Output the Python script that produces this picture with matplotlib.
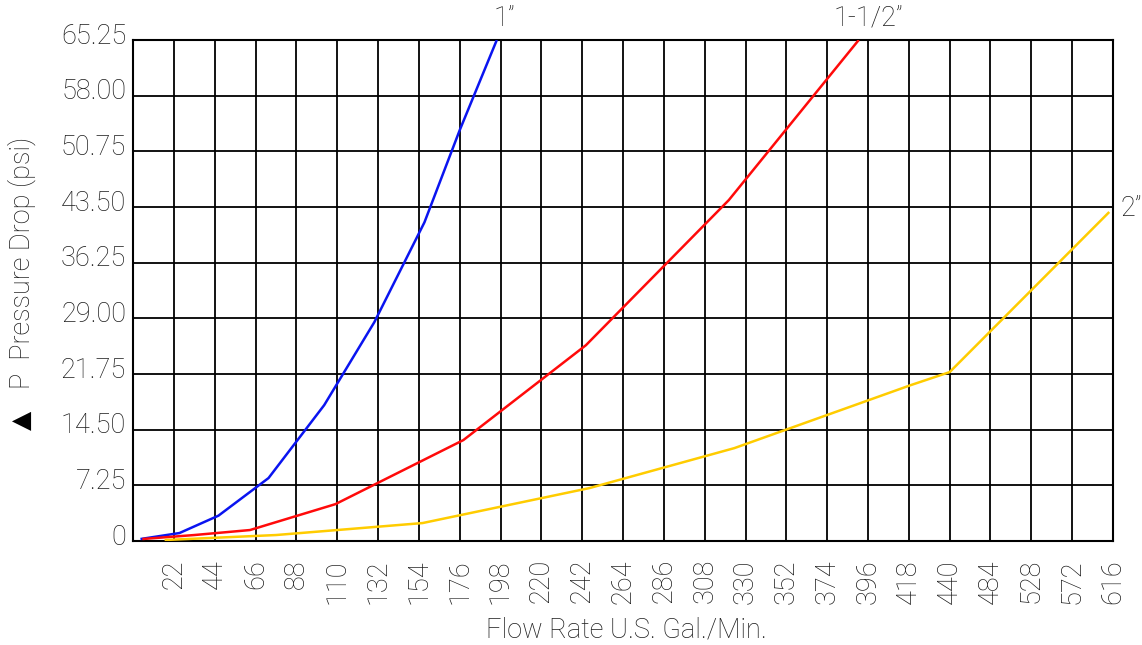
import numpy as np
import matplotlib.pyplot as plt
from matplotlib.transforms import ScaledTranslation

# x axis is evenly spaced per tick, but the flow steps change after 440
x_ticks = [22, 44, 66, 88, 110, 132, 154, 176, 198, 220, 242, 264, 286,
           308, 330, 352, 374, 396, 418, 440, 484, 528, 572, 616]
y_ticks = [0, 7.25, 14.50, 21.75, 29.00, 36.25, 43.50, 50.75, 58.00, 65.25]
y_tick_labels = ["0", "7.25", "14.50", "21.75", "29.00", "36.25", "43.50",
                 "50.75", "58.00", "65.25"]

# flow (gpm) / pressure drop (psi)
flow_1in = [4, 25, 46, 73, 103, 130, 157, 176, 196]
dp_1in = [0.26, 1.04, 3.3, 8.2, 17.7, 28.5, 41.5, 53.5, 65.25]

flow_15in = [5, 33, 63, 109, 178, 244, 321, 391]
dp_15in = [0.26, 0.78, 1.43, 4.8, 13.15, 25.5, 44.4, 65.25]

flow_2in = [17, 77, 156, 246, 324, 419, 440, 612]
dp_2in = [0.13, 0.78, 2.34, 6.9, 12.1, 20.3, 22.0, 42.85]

tick_pos = np.arange(0, len(x_ticks) + 1)
tick_flow = np.array([0] + x_ticks)


def to_pos(flow):
    return np.interp(flow, tick_flow, tick_pos)


FONT = ['Roboto', 'DejaVu Sans']
W = 'light'
TXT = '#1c1c1c'
FS = 19.5

fig = plt.figure(figsize=(11.42, 6.45), dpi=100)
ax = fig.add_axes([0.1165, 0.1612, 0.8581, 0.7768])

ax.plot(to_pos(flow_1in), dp_1in, color='#0a14f0', lw=1.8, solid_capstyle='butt', zorder=3)
ax.plot(to_pos(flow_15in), dp_15in, color='#ff0a0a', lw=1.8, solid_capstyle='butt', zorder=3)
ax.plot(to_pos(flow_2in), dp_2in, color='#ffcc00', lw=1.8, solid_capstyle='butt', zorder=3)

ax.set_xlim(0, len(x_ticks))
ax.set_ylim(0, 65.25)
ax.set_xticks(tick_pos[1:])
ax.set_xticklabels([str(v) for v in x_ticks], rotation=90, family=FONT,
                   fontweight=W, fontsize=FS, color=TXT)
ax.set_yticks(y_ticks)
ax.set_yticklabels(y_tick_labels, family=FONT, fontweight=W,
                   fontsize=FS, color=TXT)
ax.tick_params(length=0, pad=5)
ax.tick_params(axis='x', pad=13)
for lab in ax.get_yticklabels():
    lab.set_transform(lab.get_transform() + ScaledTranslation(0, 5 / 72, fig.dpi_scale_trans))

ax.grid(True, color='black', lw=1.3)
for s in ax.spines.values():
    s.set_linewidth(1.5)
    s.set_color('black')

fig.text(626 / 1142, 1 - 630 / 645, "Flow Rate U.S. Gal./Min.", family=FONT,
         fontweight=W, fontsize=FS, color=TXT, ha='center', va='center')
# triangle drawn by DejaVu, rest of the label in the light font
fig.text(22 / 1142, 1 - 420 / 645, "\u25B2", rotation=90, family='DejaVu Sans',
         fontsize=18, color='black', ha='center', va='center')
fig.text(22 / 1142, 1 - 263 / 645, "P  Pressure Drop (psi)", rotation=90, family=FONT,
         fontweight=W, fontsize=FS, color=TXT, ha='center', va='center')

fig.text(504 / 1142, 1 - 18 / 645, "1\u201D", family=FONT, fontweight=W,
         fontsize=FS, color=TXT, ha='center', va='center')
fig.text(868 / 1142, 1 - 18 / 645, "1-1/2\u201D", family=FONT, fontweight=W,
         fontsize=FS, color=TXT, ha='center', va='center')
fig.text(1131 / 1142, 1 - 208 / 645, "2\u201D", family=FONT, fontweight=W,
         fontsize=FS, color=TXT, ha='center', va='center')

fig.savefig("out.png", dpi=100)
